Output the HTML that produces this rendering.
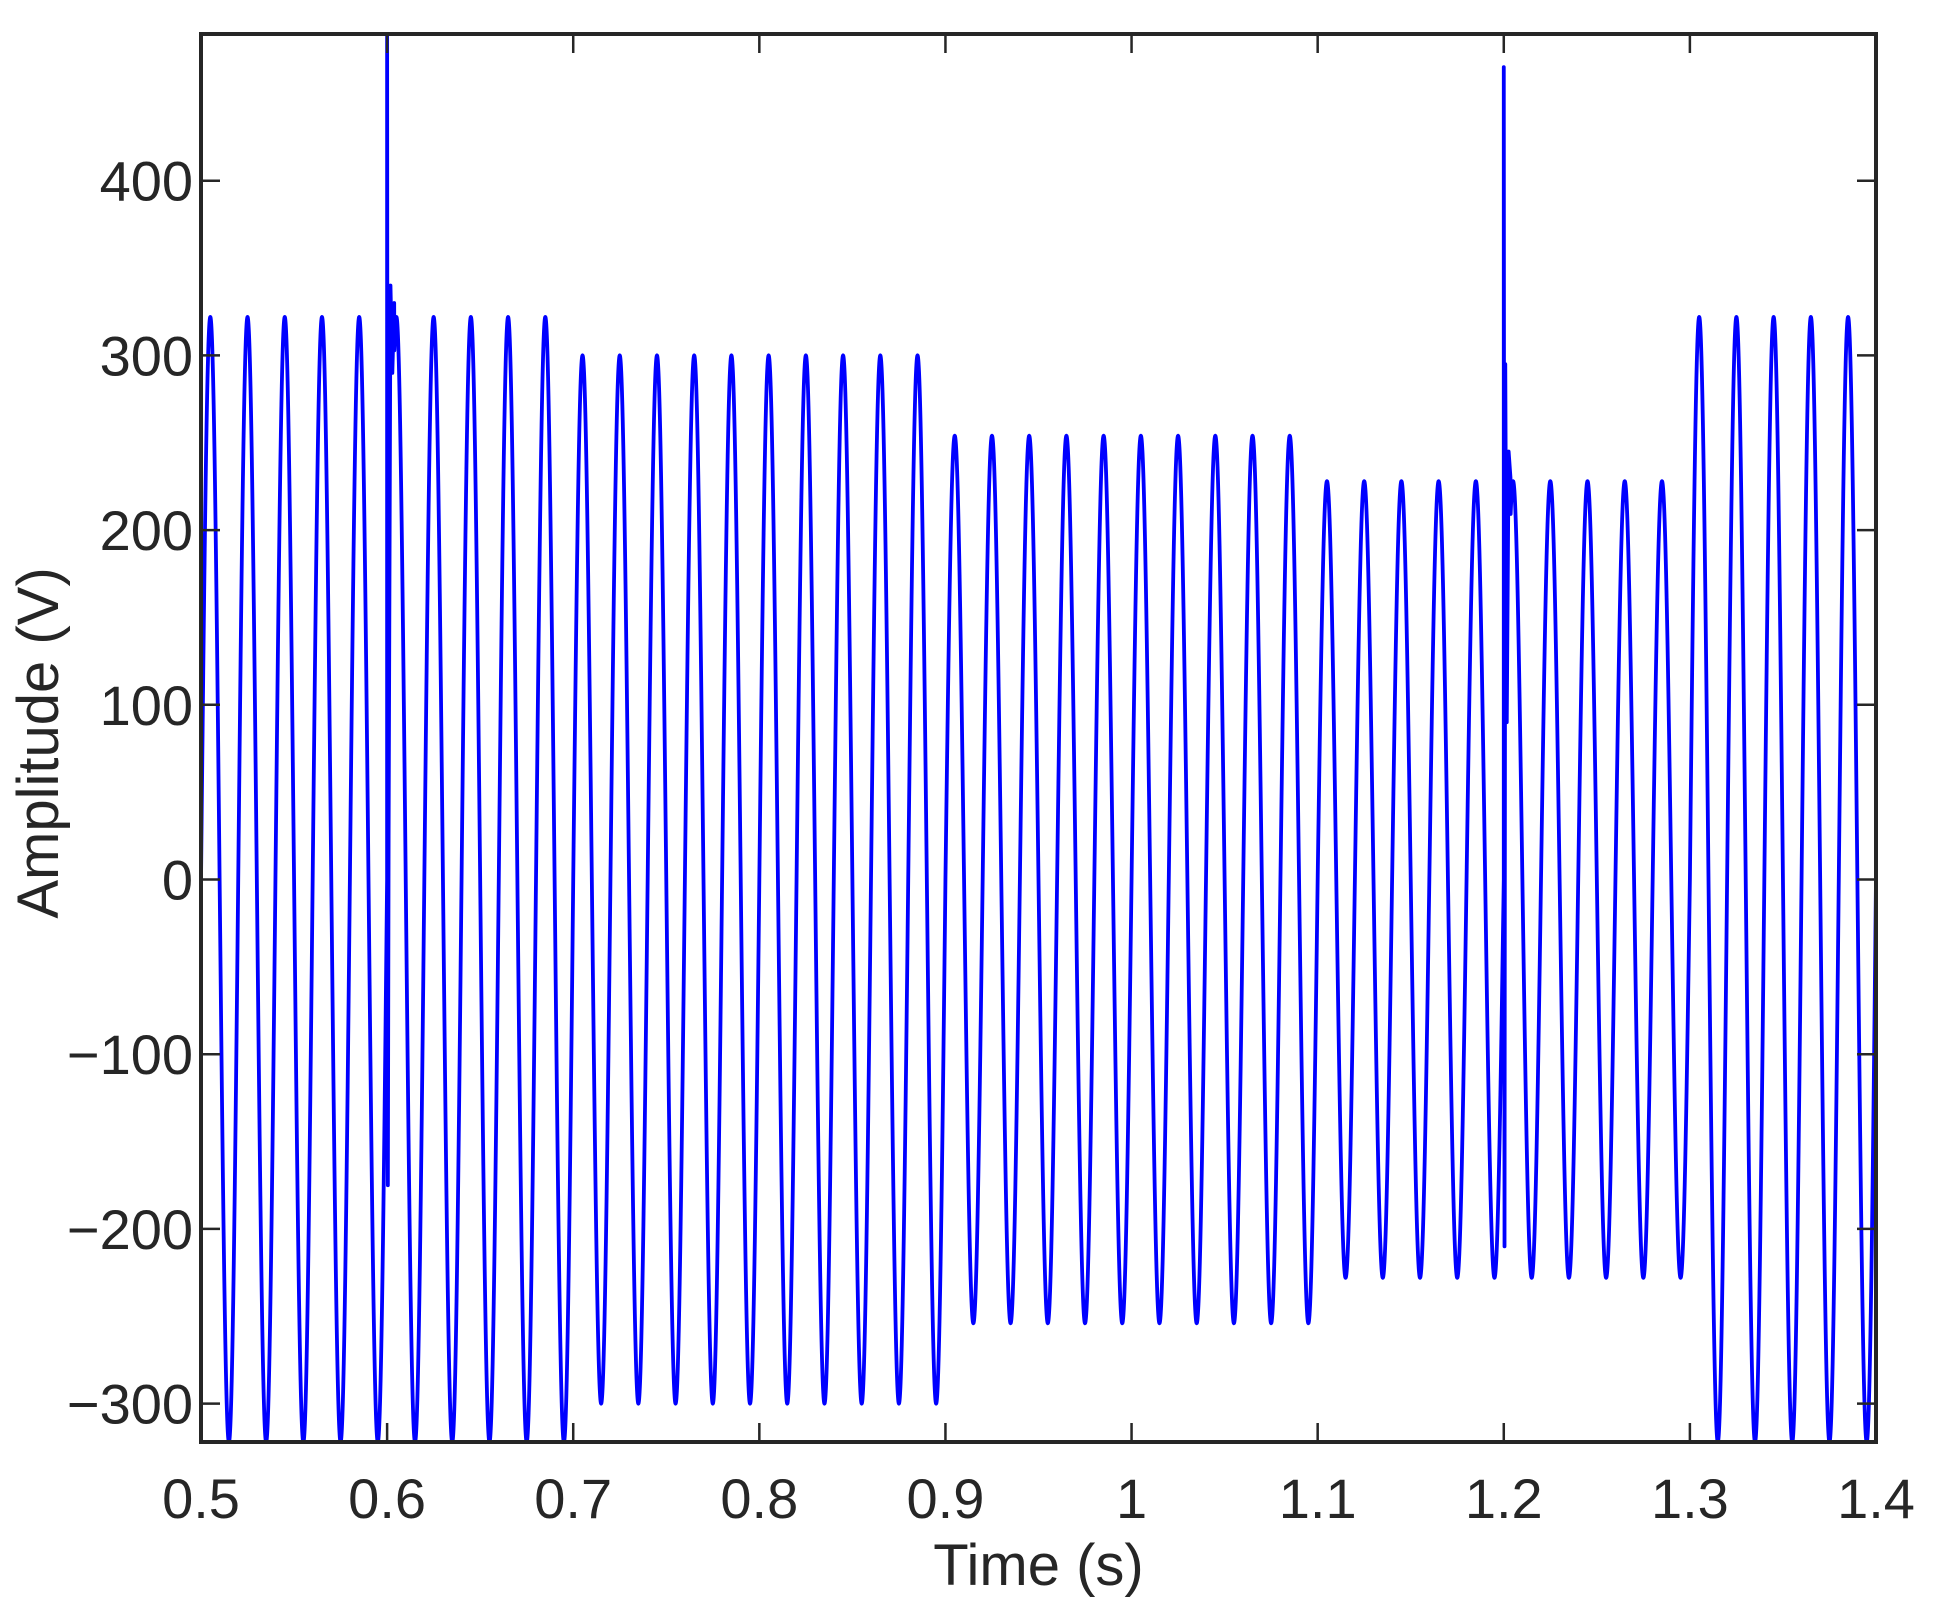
<!DOCTYPE html>
<html><head><meta charset="utf-8"><style>
html,body{margin:0;padding:0;background:#fff;}
svg{display:block;font-family:"Liberation Sans",Arial,sans-serif;}
</style></head><body>
<svg id="chart" width="1933" height="1612" viewBox="0 0 1933 1612" xmlns="http://www.w3.org/2000/svg">
<rect x="0" y="0" width="1933" height="1612" fill="#fff"/>
<g id="plot"></g>
<g id="axes"></g>
</svg>
<script>
const segStarts = [0.5, 0.7, 0.9, 1.1, 1.3];
const segEnds = [0.7, 0.9, 1.1, 1.3, 1.4];
const segAmps = [322, 300, 254, 228, 322];
const freqHz = 50;
const spike1T = [0.6, 0.6004, 0.6008, 0.6018, 0.6028, 0.6038];
const spike1V = [490, -175, 25, 340, 290, 330];
const spike2T = [1.2, 1.2004, 1.2008, 1.2016, 1.2026, 1.2036];
const spike2V = [465, -210, 295, 90, 245, 230];
const xTicks = [0.5, 0.6, 0.7, 0.8, 0.9, 1, 1.1, 1.2, 1.3, 1.4];
const xTickLabels = ["0.5","0.6","0.7","0.8","0.9","1","1.1","1.2","1.3","1.4"];
const yTicks = [-300, -200, -100, 0, 100, 200, 300, 400];
const yTickLabels = ["\u2212300","\u2212200","\u2212100","0","100","200","300","400"];

const L=201, R=1876, T=34, B=1442;
const xMin=0.5, xMax=1.4, yMin=-322, yMax=484;
const X = t => L + (t - xMin) / (xMax - xMin) * (R - L);
const Y = v => B - (v - yMin) / (yMax - yMin) * (B - T);
const NS = "http://www.w3.org/2000/svg";
function mk(tag, attrs){const e=document.createElementNS(NS,tag);for(const k in attrs)e.setAttribute(k,attrs[k]);return e;}

const plot=document.getElementById('plot');
const clip=mk('clipPath',{id:'clip'});clip.appendChild(mk('rect',{x:L,y:T,width:R-L,height:B-T}));
document.getElementById('chart').insertBefore(clip,plot);
plot.setAttribute('clip-path','url(#clip)');

function ampAt(t){for(let i=0;i<segStarts.length;i++){if(t>=segStarts[i]&&t<=segEnds[i])return segAmps[i];}return segAmps[segAmps.length-1];}
let pts=[];
const dt=0.0001;
function pushSpike(ts,vs){for(let k=0;k<ts.length;k++)pts.push([ts[k],vs[k]]);}
let s1=false,s2=false;
for(let t=xMin;t<=xMax+1e-9;t+=dt){
  if(!s1&&t>=spike1T[0]){pushSpike(spike1T,spike1V);s1=true;t=spike1T[spike1T.length-1];continue;}
  if(!s2&&t>=spike2T[0]){pushSpike(spike2T,spike2V);s2=true;t=spike2T[spike2T.length-1];continue;}
  pts.push([t, ampAt(t)*Math.sin(2*Math.PI*freqHz*(t-xMin))]);
}
const d='M'+pts.map(p=>X(p[0]).toFixed(2)+','+Y(p[1]).toFixed(2)).join('L');
const line=mk('path',{d:d,fill:'none',stroke:'#0000ff','stroke-width':3.8,'stroke-linejoin':'round'});


plot.appendChild(line);

const axes=document.getElementById('axes');
const frame=mk('rect',{x:L,y:T,width:R-L,height:B-T,fill:'none',stroke:'#262626','stroke-width':4});


axes.appendChild(frame);
xTicks.forEach((v,i)=>{
  const x=X(v);
  axes.appendChild(mk('line',{x1:x,y1:B,x2:x,y2:B-19,stroke:'#262626','stroke-width':2.5}));
  axes.appendChild(mk('line',{x1:x,y1:T,x2:x,y2:T+19,stroke:'#262626','stroke-width':2.5}));
  const tx=mk('text',{x:x,y:B+76,'text-anchor':'middle','font-size':56,fill:'#262626'});
  tx.textContent=xTickLabels[i];
  
  
  axes.appendChild(tx);
});
yTicks.forEach((v,i)=>{
  const y=Y(v);
  axes.appendChild(mk('line',{x1:L,y1:y,x2:L+19,y2:y,stroke:'#262626','stroke-width':2.5}));
  axes.appendChild(mk('line',{x1:R,y1:y,x2:R-19,y2:y,stroke:'#262626','stroke-width':2.5}));
  const tx=mk('text',{x:L-8,y:y+20,'text-anchor':'end','font-size':56,fill:'#262626'});
  tx.textContent=yTickLabels[i];
  
  
  axes.appendChild(tx);
});
const xt=mk('text',{x:(L+R)/2,y:1585,'text-anchor':'middle','font-size':58,fill:'#262626'});
xt.textContent='Time (s)';


axes.appendChild(xt);
const yt=mk('text',{x:0,y:0,'text-anchor':'middle','font-size':58,fill:'#262626',transform:'translate(58,'+((T+B)/2+5)+') rotate(-90)'});
yt.textContent='Amplitude (V)';


axes.appendChild(yt);
</script>
</body></html>
